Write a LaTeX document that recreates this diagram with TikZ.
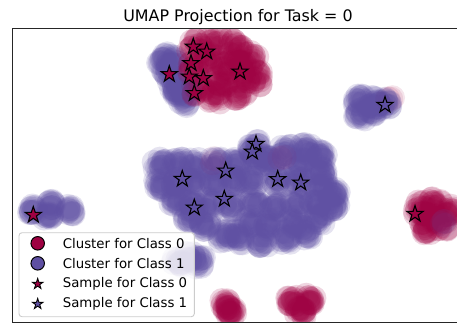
\documentclass[tikz,border=0pt]{standalone}
\usepackage{fontspec}
\setmainfont{DejaVu Sans}
\usetikzlibrary{shapes.geometric}
\definecolor{cz}{HTML}{9E0142}
\definecolor{cp}{HTML}{5E4FA2}
\newcommand\myclust[5][0.16]{%
  \foreach \ax/\ay in {#5}{%
    \foreach \k in {1,...,#4}{%
      \pgfmathsetmacro\dx{#3*rand}%
      \pgfmathsetmacro\dy{#3*rand}%
      \fill[#2,opacity=#1] ({\ax+\dx},{\ay+\dy}) circle[radius=12.5pt];
    }%
  }%
}
\tikzset{
  mystar/.style={star, star points=5, star point ratio=2.6, minimum size=17pt, inner sep=0pt, draw=black, line width=1.1pt},
  legstar/.style={star, star points=5, star point ratio=2.6, minimum size=11pt, inner sep=0pt, draw=black, line width=0.9pt},
  legdot/.style={circle, minimum size=13.5pt, inner sep=0pt, draw=black, line width=1pt},
  legtext/.style={anchor=west, inner sep=0pt, font=\fontsize{13.3}{16}\selectfont},
}
\begin{document}
\begin{tikzpicture}[x=1pt,y=-1pt]
\useasboundingbox (0,0) rectangle (457,325);
\pgfmathsetseed{7}
\begin{scope}
\clip (12.5,28.5) rectangle (460,322.5);
% top cluster: purple part
\myclust{cp}{6}{14}{163/58, 168/70, 175/84, 180/94, 186/100, 172/60}
% top cluster: crimson part
\myclust{cz}{7}{14}{195/45, 215/42, 235/45, 250/58, 254/78, 240/92, 215/95, 200/88, 195/68, 225/68, 245/75, 210/60, 235/60, 222/82}
\myclust[0.1]{cp}{5}{3}{185/92, 180/80}
% upper right purple
\myclust[0.1]{cz}{3}{3}{390/100}
\myclust{cp}{5}{14}{360/100, 376/102, 360/114, 372/110, 385/104}
% right crimson
\myclust{cz}{6}{14}{420/208, 436/204, 442/225, 425/228, 450/212, 432/216}
\myclust[0.07]{cp}{4}{4}{446/225}
% left purple
\myclust{cp}{4}{12}{33/210, 52/205, 70/210, 48/215}
% main purple cluster
\myclust{cp}{6}{16}{160/165, 160/185, 178/165, 178/182, 175/200, 195/165, 195/182, 192/205, 215/165, 215/182, 210/205, 235/165, 235/182, 230/205, 190/215, 205/225, 225/235, 255/147, 258/160, 252/180, 270/162, 285/152, 305/150, 320/155, 320/170, 300/165, 280/180, 300/182, 322/185, 333/193, 332/205, 255/200, 275/205, 295/205, 315/205, 320/218, 250/222, 270/225, 295/222, 240/237, 262/240, 285/237, 305/232}
\myclust[0.05]{cz}{3}{2}{213/160, 282/160}
% small purple under legend
\myclust{cp}{5}{12}{178/262, 200/262, 190/258}
% bottom crimson
\myclust{cz}{5}{14}{226/305, 232/312, 292/300, 310/300, 300/312}
\end{scope}
% axes frame
\draw[line width=1.1pt, black!85] (470,28.5) -- (12.5,28.5) -- (12.5,322.5) -- (470,322.5);
% title
\node[anchor=base, inner sep=0pt, font=\fontsize{15.9}{19}\selectfont] (title) at (238,21.5) {UMAP Projection for Task = 0};
% stars class 0
\node[mystar, fill=cz] (a1) at (193.3,46.7) {};
\node[mystar, fill=cz] (a2) at (206.7,51.7) {};
\node[mystar, fill=cz] (a3) at (191,63.3) {};
\node[mystar, fill=cz] (a4) at (169.3,74.3) {};
\node[mystar, fill=cz] (a5) at (189.3,76.7) {};
\node[mystar, fill=cz] (a6) at (203.3,78.3) {};
\node[mystar, fill=cz] (a7) at (194.3,93.3) {};
\node[mystar, fill=cz] (a8) at (240,71.7) {};
\node[mystar, fill=cz] (a9) at (33.3,215) {};
\node[mystar, fill=cz] (a10) at (415,214) {};
% stars class 1
\node[mystar, fill=cp] (b1) at (256,144) {};
\node[mystar, fill=cp] (b2) at (252.3,151.7) {};
\node[mystar, fill=cp] (b3) at (225.7,170.7) {};
\node[mystar, fill=cp] (b4) at (182.3,179) {};
\node[mystar, fill=cp] (b5) at (277.7,179.3) {};
\node[mystar, fill=cp] (b6) at (300.7,182.7) {};
\node[mystar, fill=cp] (b7) at (224.3,199) {};
\node[mystar, fill=cp] (b8) at (194.3,207.7) {};
\node[mystar, fill=cp] (b9) at (385,105) {};
% legend
\draw[rounded corners=3pt, draw=black!20, line width=0.9pt, fill=white, fill opacity=0.8] (19,232.7) rectangle (194.3,316.7);
\node[legdot, fill=cz] (l1) at (37.7,243.3) {};
\node[legdot, fill=cp] (l2) at (37.7,263.3) {};
\node[legstar, fill=cz] (l3) at (37.7,284) {};
\node[legstar, fill=cp] (l4) at (37.7,304) {};
\node[legtext] (t1) at (62.7,243.3) {Cluster for Class 0};
\node[legtext] (t2) at (62.7,263.3) {Cluster for Class 1};
\node[legtext] (t3) at (62.7,284) {Sample for Class 0};
\node[legtext] (t4) at (62.7,304) {Sample for Class 1};
\end{tikzpicture}
\end{document}
